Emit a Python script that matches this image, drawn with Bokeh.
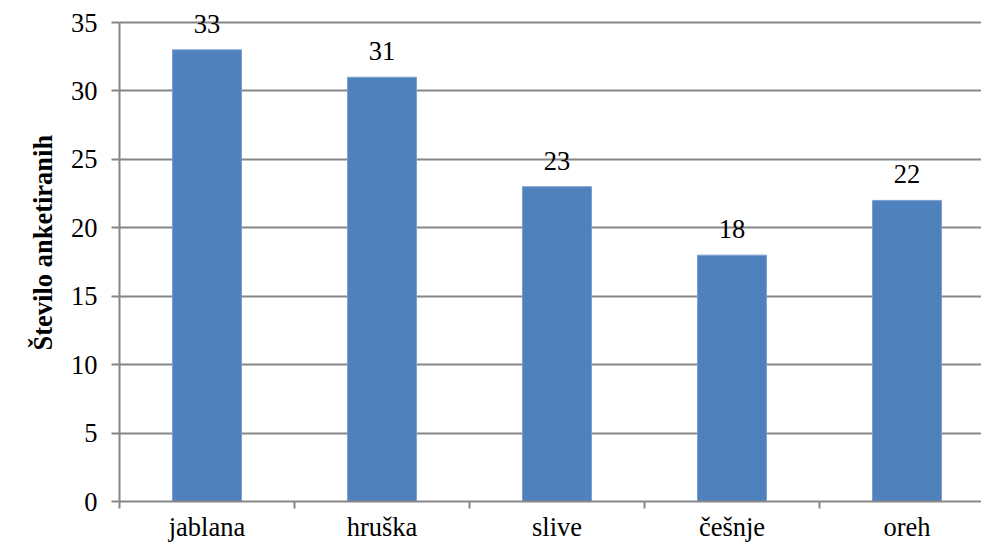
from bokeh.plotting import figure
from bokeh.models import Range1d, FixedTicker, ColumnDataSource, LabelSet, Title
from bokeh.embed import file_html
from bokeh.resources import INLINE

categories = ["jablana", "hruška", "slive", "češnje", "oreh"]
values = [33, 31, 23, 18, 22]
y_ticks = [0, 5, 10, 15, 20, 25, 30, 35]
y_title = "Število anketiranih"

FONT = "'Liberation Serif'"
FS = "26.5px"
GRAY = "#868686"
PX_PER_UNIT = (501 - 22) / 35

centers = [i + 0.5 for i in range(len(categories))]
src = ColumnDataSource(dict(x=centers, top=values, label=[str(v) for v in values]))

p = figure(width=981, height=544, output_backend="svg", toolbar_location=None,
           x_range=Range1d(0, (981 - 119) / 175), y_range=Range1d(0, 35 + 18 / PX_PER_UNIT),
           min_border_left=119, min_border_right=0, min_border_top=4, min_border_bottom=43)
p.outline_line_color = None
p.background_fill_color = "white"
p.border_fill_color = "white"

p.vbar(x="x", top="top", width=0.394, bottom=0, source=src,
       fill_color="#4F81BD", line_color="#7A9FD0", line_width=1)

labels = LabelSet(x="x", y="top", text="label", source=src, text_align="center",
                  text_baseline="alphabetic", y_offset=17, text_font=FONT,
                  text_font_size=FS, text_color="black")
p.add_layout(labels)

# x axis
p.xaxis.ticker = FixedTicker(ticks=centers, minor_ticks=list(range(len(categories) + 1)))
p.xaxis.major_label_overrides = {c: n for c, n in zip(centers, categories)}
p.xaxis.major_tick_line_color = None
p.xaxis.major_tick_out = 0
p.xaxis.major_tick_in = 0
p.xaxis.minor_tick_line_color = GRAY
p.xaxis.minor_tick_line_width = 2
p.xaxis.minor_tick_out = 0
p.xaxis.minor_tick_in = -7
p.xaxis.axis_line_color = GRAY
p.xaxis.axis_line_width = 2
p.xaxis.major_label_text_font = FONT
p.xaxis.major_label_text_font_size = FS
p.xaxis.major_label_text_color = "black"
p.xaxis.major_label_standoff = 10
p.xgrid.grid_line_color = None

# y axis
p.yaxis.ticker = FixedTicker(ticks=y_ticks)
p.yaxis.bounds = (0, 35)
p.yaxis.minor_tick_line_color = None
p.yaxis.major_tick_line_color = GRAY
p.yaxis.major_tick_line_width = 2
p.yaxis.major_tick_out = 8
p.yaxis.major_tick_in = 0
p.yaxis.axis_line_color = GRAY
p.yaxis.axis_line_width = 2
p.yaxis.major_label_text_font = FONT
p.yaxis.major_label_text_font_size = FS
p.yaxis.major_label_text_color = "black"
p.yaxis.major_label_standoff = 14
p.ygrid.grid_line_color = GRAY
p.ygrid.grid_line_width = 2

p.add_layout(Title(text=y_title, align="left", offset=151, text_font=FONT,
                   text_font_size=FS, text_font_style="bold", text_color="black",
                   standoff=20), "left")

open("out.html", "w").write(file_html(p, INLINE))
